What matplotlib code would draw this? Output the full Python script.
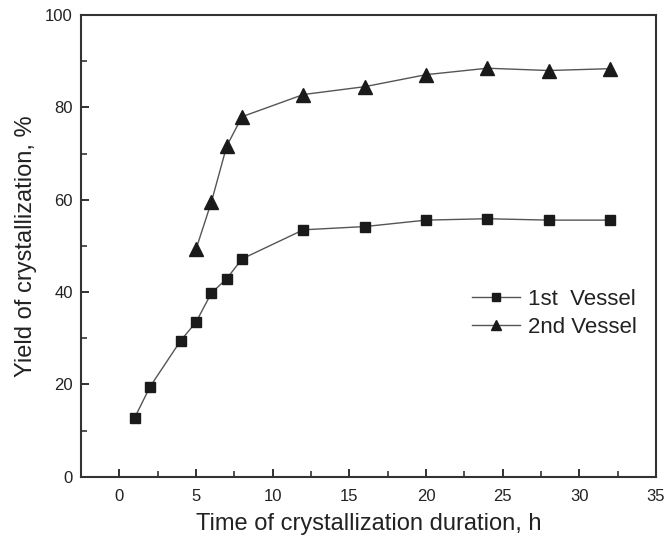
import matplotlib
matplotlib.use("Agg")
import matplotlib.pyplot as plt
from matplotlib.ticker import MultipleLocator

plt.rcParams['font.family'] = ['Liberation Sans', 'DejaVu Sans']

# Data
time_1st = [1, 2, 4, 5, 6, 7, 8, 12, 16, 20, 24, 28, 32]
yield_1st = [12.8, 19.5, 29.5, 33.5, 39.8, 42.9, 47.2, 53.5, 54.2, 55.6, 55.9, 55.6, 55.6]

time_2nd = [5, 6, 7, 8, 12, 16, 20, 24, 28, 32]
yield_2nd = [49.3, 59.5, 71.6, 78.0, 82.8, 84.5, 87.1, 88.5, 88.0, 88.4]

x_ticks = [0, 5, 10, 15, 20, 25, 30, 35]
y_ticks = [0, 20, 40, 60, 80, 100]

fig = plt.figure(figsize=(6.64, 5.40), dpi=100)
ax = fig.add_axes([0.122, 0.117, 0.866, 0.855])

ax.plot(time_1st, yield_1st, color='#555555', lw=1.0, marker='s', markersize=7.5,
        markerfacecolor='#1a1a1a', markeredgecolor='#1a1a1a', label='1st  Vessel')
ax.plot(time_2nd, yield_2nd, color='#555555', lw=1.0, marker='^', markersize=9.5,
        markerfacecolor='#1a1a1a', markeredgecolor='#1a1a1a', label='2nd Vessel')

ax.set_xlim(-2.5, 35)
ax.set_ylim(0, 100)
ax.set_xticks(x_ticks)
ax.set_yticks(y_ticks)
ax.xaxis.set_minor_locator(MultipleLocator(2.5))
ax.yaxis.set_minor_locator(MultipleLocator(10))
ax.tick_params(which='both', direction='in', top=False, right=False,
               colors='#222222', labelsize=12)
ax.tick_params(which='major', length=6, width=1.3)
ax.tick_params(which='minor', length=4, width=1.1)
ax.tick_params(axis='x', pad=9)
ax.tick_params(axis='y', pad=6)
for s in ax.spines.values():
    s.set_linewidth(1.5)
    s.set_color('#333333')

ax.set_xlabel('Time of crystallization duration, h', fontsize=17, color='#222222', labelpad=6)
ax.set_ylabel('Yield of crystallization, %', fontsize=17, color='#222222', labelpad=6)

ax.legend(loc='upper left', bbox_to_anchor=(0.711, 0.465), bbox_transform=fig.transFigure,
          frameon=False, fontsize=16, handlelength=2.15, handletextpad=0.35,
          labelspacing=0.3, borderpad=0, borderaxespad=0, markerscale=0.75,
          labelcolor='#222222')

fig.savefig('out.png', dpi=100)
